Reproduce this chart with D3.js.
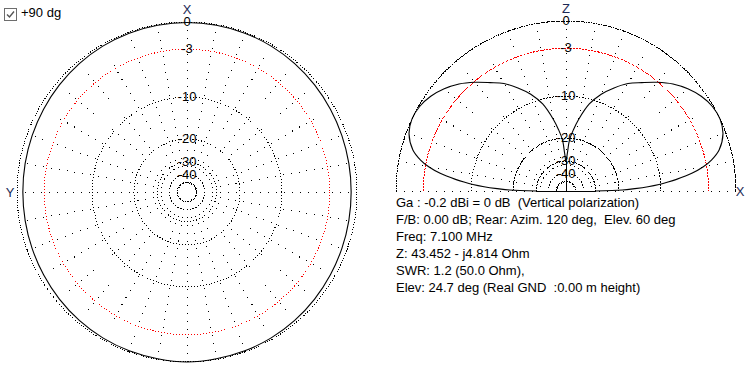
<!DOCTYPE html>
<html>
<head>
<meta charset="utf-8">
<script src="https://cdn.jsdelivr.net/npm/d3@7"></script>
<style>
  body { margin: 0; background: #fff; }
  svg { display: block; font-family: "Liberation Sans", Arial, sans-serif; font-size: 13px; }
  .info { white-space: pre; }
</style>
</head>
<body>
<div id="main"></div>
<script>
/*********************************************************
 * Data
 *********************************************************/
// grid rings (dB) and the labels along the vertical axis
const ringDb = [0, -3, -10, -20, -30, -50];
const labelDb = [0, -3, -10, -20, -30, -40];
const labelText = ['0', '-3', '-10', '-20', '-30', '-40'];

// azimuth pattern (left plot), degrees from X, counter clockwise
const azAngles = [0, 10, 20, 30, 40, 50, 60, 70, 80, 90, 100, 110, 120, 130, 140, 150, 160, 170,
  180, 190, 200, 210, 220, 230, 240, 250, 260, 270, 280, 290, 300, 310, 320, 330, 340, 350];
const azGain = [-0.05, -0.07, -0.1, -0.16, -0.25, -0.35, -0.45, -0.53, -0.58, -0.6, -0.58, -0.53, -0.45, -0.35, -0.25, -0.16, -0.1, -0.07,
  0, -0.07, -0.1, -0.16, -0.25, -0.35, -0.45, -0.53, -0.58, -0.6, -0.58, -0.53, -0.45, -0.35, -0.25, -0.16, -0.1, -0.07];

// elevation pattern (right plot), degrees above the X horizon
const elAngles = [0, 1, 2, 3, 4, 5, 6, 8, 10, 12, 15, 20, 25, 30, 35, 40, 45, 50, 55, 60, 65, 70, 75, 80, 83, 86, 88, 90,
  92, 94, 97, 100, 105, 110, 115, 120, 125, 130, 135, 140, 145, 150, 155, 160, 165, 168, 170, 172, 174, 175, 176, 177, 178, 179, 180];
const elGain = [-30, -19, -15.5, -12.5, -10.3, -8.7, -7.3, -5.0, -3.4, -2.3, -1.2, -0.3, 0, -0.1, -0.5, -1.15, -2.0, -3.1, -4.3, -5.4, -6.9, -8.6, -10.9, -14.6, -17.3, -20.5, -26, -30,
  -26, -20.5, -17.3, -14.6, -10.9, -8.6, -6.9, -5.4, -4.3, -3.1, -2.0, -1.15, -0.5, -0.1, 0, -0.3, -1.2, -2.3, -3.4, -5.0, -7.3, -8.7, -10.3, -12.5, -15.5, -19, -30];

const infoLines = [
  'Ga : -0.2 dBi = 0 dB  (Vertical polarization)',
  'F/B: 0.00 dB; Rear: Azim. 120 deg,  Elev. 60 deg',
  'Freq: 7.100 MHz',
  'Z: 43.452 - j4.814 Ohm',
  'SWR: 1.2 (50.0 Ohm),',
  'Elev: 24.7 deg (Real GND  :0.00 m height)'
];

/*********************************************************
 * Layout
 *********************************************************/
const svgWidth = 749;
const svgHeight = 370;
const R = 170;
const leftC = { x: 187, y: 192 };
const rightC = { x: 566, y: 191 };

const svg = d3.select('#main').append('svg')
  .attr('width', svgWidth)
  .attr('height', svgHeight);

// ARRL style log scale: every -2 dB shrinks the radius by 0.89
const logR = d3.scaleLinear().domain([0, -2]).range([Math.log(R), Math.log(R * 0.89)]);
const r = db => Math.exp(logR(db));
const rad = d3.scaleLinear().domain([0, 360]).range([0, 2 * Math.PI]);

function drawGrid(g, half) {
  // dotted rings
  ringDb.forEach(db => {
    const rr = r(db);
    const el = half
      ? g.append('path').attr('d', d3.arc()({ innerRadius: rr, outerRadius: rr, startAngle: -Math.PI / 2, endAngle: Math.PI / 2 }))
      : g.append('circle').attr('r', rr);
    el.attr('fill', 'none')
      .attr('stroke', db === -3 ? '#ff0000' : '#000')
      .attr('stroke-dasharray', db === 0 ? '1 1.5' : '1 2')
      .attr('shape-rendering', 'crispEdges');
  });
  // dotted spokes every 10 deg
  const spokes = half ? d3.range(0, 181, 10) : d3.range(0, 360, 10);
  g.selectAll('.spoke').data(spokes).enter().append('line')
    .attr('class', 'spoke')
    .attr('x1', d => r(-50) * Math.cos(rad(d)))
    .attr('y1', d => -r(-50) * Math.sin(rad(d)))
    .attr('x2', d => R * Math.cos(rad(d)))
    .attr('y2', d => -R * Math.sin(rad(d)))
    .attr('stroke', '#000')
    .attr('stroke-dasharray', '1 7')
    .attr('shape-rendering', 'crispEdges');
  // dB labels
  g.selectAll('.lbl').data(labelDb).enter().append('text')
    .attr('class', 'lbl')
    .attr('x', 0)
    .attr('y', d => -r(d) - 1)
    .attr('dy', '0.36em')
    .attr('text-anchor', 'middle')
    .attr('fill', '#000')
    .text((d, i) => labelText[i]);
}

/*********************************************************
 * Left: azimuth plot
 *********************************************************/
const left = svg.append('g').attr('transform', `translate(${leftC.x},${leftC.y})`);
drawGrid(left, false);

const azLine = d3.lineRadial()
  .angle(d => -rad(d[0]))
  .radius(d => r(d[1]))
  .curve(d3.curveCatmullRomClosed.alpha(0.5));
left.append('path')
  .attr('d', azLine(d3.zip(azAngles, azGain)))
  .attr('fill', 'none')
  .attr('stroke', '#000')
  .attr('stroke-width', 1.1);

left.append('text').attr('x', 0).attr('y', -R - 8).attr('text-anchor', 'middle').attr('fill', '#1c2a55').text('X');
left.append('text').attr('x', -R - 7).attr('y', 5).attr('text-anchor', 'middle').attr('fill', '#1c2a55').text('Y');

/*********************************************************
 * Right: elevation plot
 *********************************************************/
const right = svg.append('g').attr('transform', `translate(${rightC.x},${rightC.y})`);
drawGrid(right, true);

const elPts = d3.zip(elAngles, elGain);
const elLine = d3.lineRadial()
  .angle(d => rad(90 - d[0]))
  .radius(d => r(d[1]))
  .curve(d3.curveCatmullRom.alpha(0.5));
right.append('path')
  .attr('d', elLine(elPts))
  .attr('fill', 'none')
  .attr('stroke', '#000')
  .attr('stroke-width', 1.1);

// lines from the origin to the horizon and zenith points
const toXY = d => [r(d[1]) * Math.cos(rad(d[0])), -r(d[1]) * Math.sin(rad(d[0]))];
const hubPts = [elPts[0], elPts[elAngles.indexOf(90)], elPts[elPts.length - 1]];
right.selectAll('.hub').data(hubPts).enter().append('line')
  .attr('class', 'hub')
  .attr('x1', 0).attr('y1', 0)
  .attr('x2', d => toXY(d)[0])
  .attr('y2', d => toXY(d)[1])
  .attr('stroke', '#000')
  .attr('shape-rendering', 'crispEdges');

right.append('text').attr('x', 0).attr('y', -R - 8).attr('text-anchor', 'middle').attr('fill', '#1c2a55').text('Z');
right.append('text').attr('x', R + 4).attr('y', 5).attr('text-anchor', 'middle').attr('fill', '#1c2a55').text('X');

/*********************************************************
 * Info text and checkbox
 *********************************************************/
svg.selectAll('.info').data(infoLines).enter().append('text')
  .attr('class', 'info')
  .attr('x', 396)
  .attr('y', (d, i) => 206.5 + i * 17.1)
  .attr('fill', '#000')
  .text(d => d);

const cb = svg.append('g').attr('transform', 'translate(4.5,8.5)');
cb.append('rect').attr('width', 12).attr('height', 12)
  .attr('fill', '#fff').attr('stroke', '#6d6d6d');
cb.append('path').attr('d', 'M2.5,6 L5,8.5 L9.5,3')
  .attr('fill', 'none').attr('stroke', '#555').attr('stroke-width', 1.4);
svg.append('text').attr('x', 21).attr('y', 17).attr('fill', '#000').text('+90 dg');
</script>
</body>
</html>
